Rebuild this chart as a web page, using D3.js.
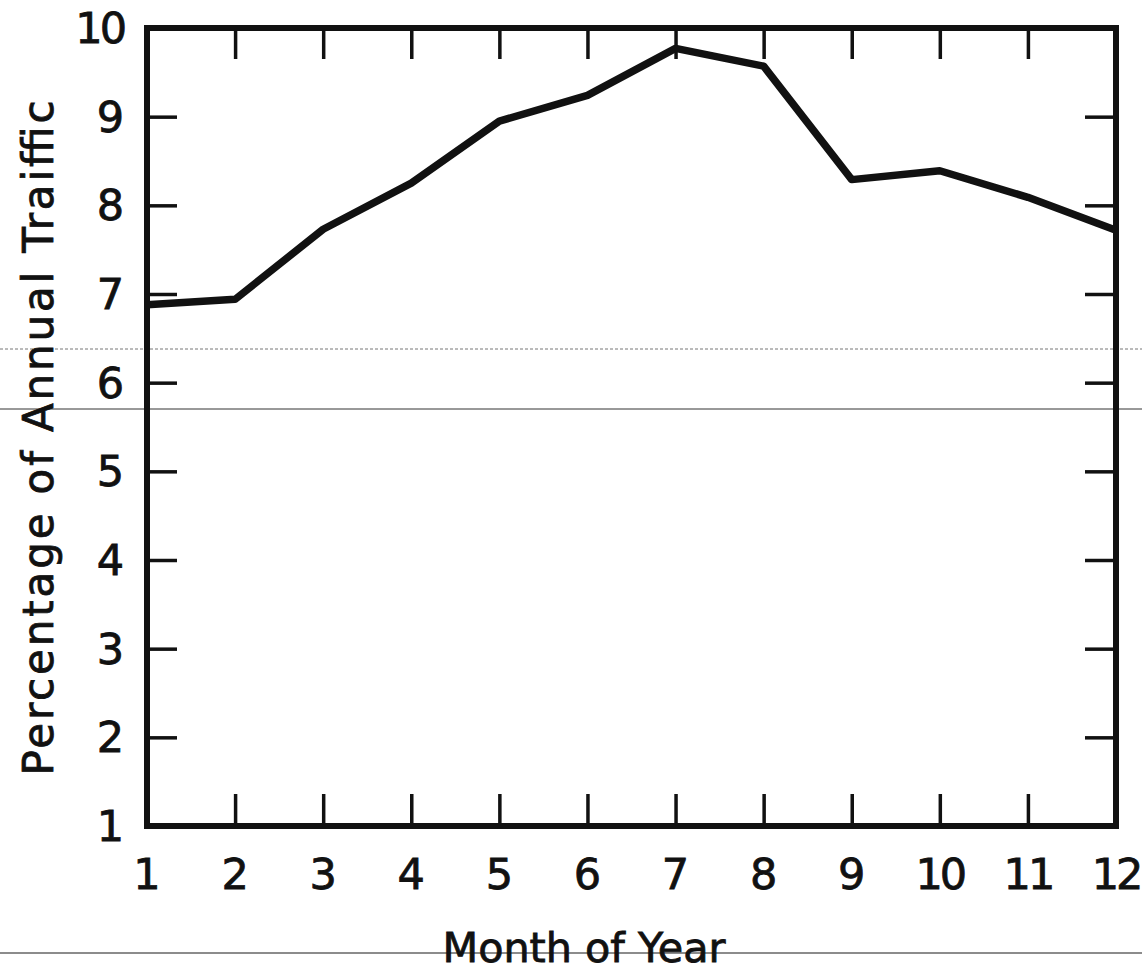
<!DOCTYPE html>
<html>
<head>
<meta charset="utf-8">
<script src="https://cdn.jsdelivr.net/npm/d3@7"></script>
<style>
  html, body { margin: 0; padding: 0; background: #fff; }
  svg { display: block; }
</style>
</head>
<body>
<svg id="chart" width="1142" height="971"></svg>
<script>
// ---- data ----
const months = [1, 2, 3, 4, 5, 6, 7, 8, 9, 10, 11, 12];
const traffic = [6.88, 6.94, 7.73, 8.25, 8.95, 9.24, 9.77, 9.57, 8.29, 8.39, 8.09, 7.72];
const xTickLabels = ["1", "2", "3", "4", "5", "6", "7", "8", "9", "10", "11", "12"];
const yTicks = [1, 2, 3, 4, 5, 6, 7, 8, 9, 10];
const xTitle = "Month of Year";
const yTitle = "Percentage of Annual Traiffic";

// ---- layout ----
const W = 1142, H = 971;
const pLeft = 147, pRight = 1116, pTop = 28, pBottom = 826;
const svg = d3.select("#chart");
const font = "'DejaVu Sans', 'Noto Sans', sans-serif";
const ink = "#111";

const x = d3.scaleLinear().domain([1, 12]).range([pLeft, pRight]);
const y = d3.scaleLinear().domain([1, 10]).range([pBottom, pTop]);

// scan artifact lines (present in the reference scan)
svg.append("line").attr("x1", 0).attr("x2", W).attr("y1", 349).attr("y2", 349)
  .attr("stroke", "#777").attr("stroke-width", 1).attr("stroke-dasharray", "3,2");
svg.append("line").attr("x1", 0).attr("x2", W).attr("y1", 409).attr("y2", 409)
  .attr("stroke", "#333").attr("stroke-width", 1);
svg.append("line").attr("x1", 0).attr("x2", W).attr("y1", 953).attr("y2", 953)
  .attr("stroke", "#666").attr("stroke-width", 1.5);

// ---- inward ticks via d3 axes ----
const tickW = 3.5;
function styleAxis(g) {
  g.select(".domain").remove();
  g.selectAll(".tick line").attr("stroke", ink).attr("stroke-width", tickW);
  g.selectAll(".tick text").remove();
}
const innerMonths = months.slice(1, -1);
const innerY = yTicks.slice(1, -1);

svg.append("g").attr("transform", `translate(0,${pTop})`)
  .call(d3.axisTop(x).tickValues(innerMonths).tickSizeInner(-31).tickSizeOuter(0))
  .call(styleAxis);
svg.append("g").attr("transform", `translate(0,${pBottom})`)
  .call(d3.axisBottom(x).tickValues(innerMonths).tickSizeInner(-32).tickSizeOuter(0))
  .call(styleAxis);
svg.append("g").attr("transform", `translate(${pLeft},0)`)
  .call(d3.axisLeft(y).tickValues(innerY).tickSizeInner(-30).tickSizeOuter(0))
  .call(styleAxis);
svg.append("g").attr("transform", `translate(${pRight},0)`)
  .call(d3.axisRight(y).tickValues(innerY).tickSizeInner(-31).tickSizeOuter(0))
  .call(styleAxis);

// ---- data line ----
const line = d3.line().x((d, i) => x(months[i])).y(d => y(d));
svg.append("path").datum(traffic)
  .attr("d", line)
  .attr("fill", "none")
  .attr("stroke", ink)
  .attr("stroke-width", 7.5)
  .attr("stroke-linejoin", "round");

// ---- frame ----
svg.append("rect")
  .attr("x", pLeft).attr("y", pTop)
  .attr("width", pRight - pLeft).attr("height", pBottom - pTop)
  .attr("fill", "none").attr("stroke", ink).attr("stroke-width", 6);

// ---- tick labels ----
svg.append("g").selectAll("text").data(months).join("text")
  .attr("x", d => x(d)).attr("y", 874)
  .attr("text-anchor", "middle").attr("dominant-baseline", "central")
  .attr("font-family", font).attr("font-size", 43).attr("fill", ink)
  .attr("stroke", ink).attr("stroke-width", 0.8)
  .attr("letter-spacing", (d, i) => xTickLabels[i].length > 1 ? -3 : 0)
  .text((d, i) => xTickLabels[i]);

svg.append("g").selectAll("text").data(yTicks).join("text")
  .attr("x", 124).attr("y", d => y(d))
  .attr("text-anchor", "end").attr("dominant-baseline", "central")
  .attr("font-family", font).attr("font-size", 43).attr("fill", ink)
  .attr("stroke", ink).attr("stroke-width", 0.8)
  .attr("letter-spacing", d => String(d).length > 1 ? -3 : 0)
  .text(d => String(d));

// ---- axis titles ----
svg.append("text")
  .attr("x", 584).attr("y", 962)
  .attr("text-anchor", "middle")
  .attr("font-family", font).attr("font-size", 41).attr("fill", ink)
  .attr("stroke", ink).attr("stroke-width", 0.8)
  .attr("textLength", 283).attr("lengthAdjust", "spacingAndGlyphs")
  .text(xTitle);

svg.append("text")
  .attr("transform", "translate(53,438) rotate(-90)")
  .attr("text-anchor", "middle")
  .attr("font-family", font).attr("font-size", 42).attr("fill", ink)
  .attr("stroke", ink).attr("stroke-width", 0.8)
  .attr("textLength", 675).attr("lengthAdjust", "spacing")
  .text(yTitle);
</script>
</body>
</html>
